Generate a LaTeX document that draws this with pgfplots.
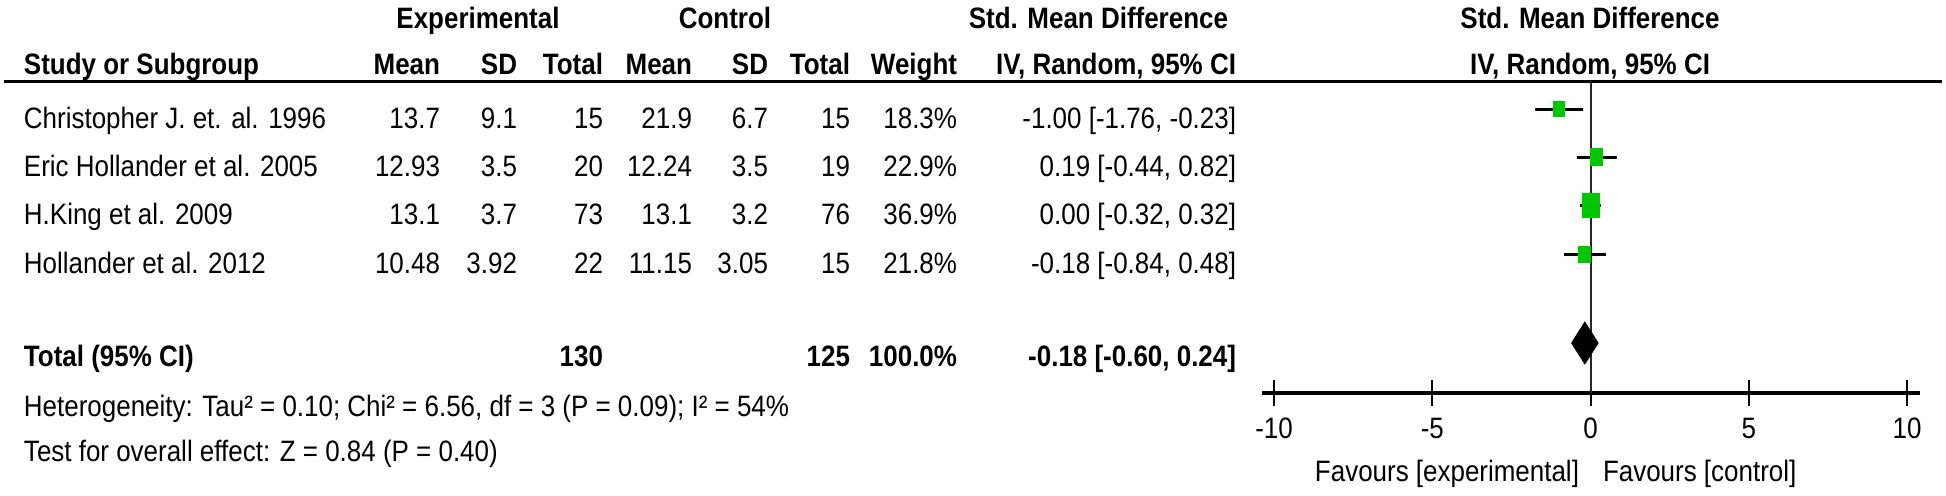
\documentclass[border=0pt]{standalone}
\usepackage{fontspec}
\setmainfont[FakeStretch=0.88]{Liberation Sans}
\usepackage{pgfplots}
\pgfplotsset{compat=1.18}
\definecolor{sqgreen}{RGB}{0,200,0}
\newcommand{\R}[3]{\node[anchor=base east] at (#1,#2) {#3};}
\newcommand{\RB}[3]{\node[anchor=base east] at (#1,#2) {\bfseries #3};}
\begin{document}
\fontsize{14.75}{17}\selectfont
\begin{tikzpicture}
\useasboundingbox (0pt,0pt) rectangle (973pt,-247.5pt);
\begin{scope}[x=0.5pt,y=-0.5pt,every node/.style={inner sep=0pt,outer sep=0pt}]
% header row 1
\node[anchor=base] at (478,28) {\bfseries Experimental};
\node[anchor=base] at (725,28) {\bfseries Control};
\node[anchor=base east] at (1228,28) {\bfseries Std. Mean Difference};
\node[anchor=base] at (1590,28) {\bfseries Std. Mean Difference};
% header row 2
\node[anchor=base west] at (24,74) {\bfseries Study or Subgroup};
\RB{440}{74}{Mean}\RB{517}{74}{SD}\RB{603}{74}{Total}
\RB{692}{74}{Mean}\RB{768}{74}{SD}\RB{850}{74}{Total}
\RB{957}{74}{Weight}\RB{1236}{74}{IV, Random, 95\% CI}
\node[anchor=base] at (1590,74) {\bfseries IV, Random, 95\% CI};
% rows
\node[anchor=base west] at (24,128) {Christopher J. et. al. 1996};
\R{440}{128}{13.7}\R{517}{128}{9.1}\R{603}{128}{15}\R{692}{128}{21.9}\R{768}{128}{6.7}\R{850}{128}{15}\R{957}{128}{18.3\%}\R{1236}{128}{-1.00 [-1.76, -0.23]}
\node[anchor=base west] at (24,176) {Eric Hollander et al. 2005};
\R{440}{176}{12.93}\R{517}{176}{3.5}\R{603}{176}{20}\R{692}{176}{12.24}\R{768}{176}{3.5}\R{850}{176}{19}\R{957}{176}{22.9\%}\R{1236}{176}{0.19 [-0.44, 0.82]}
\node[anchor=base west] at (24,224) {H.King et al. 2009};
\R{440}{224}{13.1}\R{517}{224}{3.7}\R{603}{224}{73}\R{692}{224}{13.1}\R{768}{224}{3.2}\R{850}{224}{76}\R{957}{224}{36.9\%}\R{1236}{224}{0.00 [-0.32, 0.32]}
\node[anchor=base west] at (24,273) {Hollander et al. 2012};
\R{440}{273}{10.48}\R{517}{273}{3.92}\R{603}{273}{22}\R{692}{273}{11.15}\R{768}{273}{3.05}\R{850}{273}{15}\R{957}{273}{21.8\%}\R{1236}{273}{-0.18 [-0.84, 0.48]}
% total
\node[anchor=base west] at (24,366) {\bfseries Total (95\% CI)};
\RB{603}{366}{130}\RB{850}{366}{125}\RB{957}{366}{100.0\%}\RB{1236}{366}{-0.18 [-0.60, 0.24]}
\node[anchor=base west] at (24,416) {Heterogeneity: Tau² = 0.10; Chi² = 6.56, df = 3 (P = 0.09); I² = 54\%};
\node[anchor=base west] at (24,461) {Test for overall effect: Z = 0.84 (P = 0.40)};
\node[anchor=base east] at (1579,481) {Favours [experimental]};
\node[anchor=base west] at (1603,481) {Favours [control]};
\end{scope}
\begin{axis}[at={(631pt,-247.5pt)}, anchor=south west, scale only axis,
  width=329pt, height=247.5pt,
  xmin=-10.38, xmax=10.41, ymin=-102, ymax=393,
  axis x line=middle, axis y line=none, clip=false,
  x axis line style={-, line width=1.75pt, black},
  xtick={-10,-5,0,5,10}, xticklabels={-10,-5,0,5,10},
  xtick align=center, major tick length=13pt,
  xtick style={line width=1pt, black},
  xticklabel style={anchor=base, yshift=-16pt, inner sep=0pt},
  ytick=\empty]
% header rule
\addplot[line width=1.5pt, black] coordinates {(-50.14,312) (11.09,312)};
% zero line
\addplot[line width=1pt, black!85] coordinates {(0,0) (0,312)};
% CIs
\addplot[line width=1.5pt, black] coordinates {(-1.76,284) (-0.23,284)};
\addplot[line width=1.5pt, black] coordinates {(-0.44,236) (0.82,236)};
\addplot[line width=1.5pt, black] coordinates {(-0.32,188) (0.32,188)};
\addplot[line width=1.5pt, black] coordinates {(-0.84,139) (0.48,139)};
% squares
\addplot[fill=sqgreen, draw=none] coordinates {(-1.19,276) (-0.81,276) (-0.81,292) (-1.19,292)} -- cycle;
\addplot[fill=sqgreen, draw=none] coordinates {(-0.015,227) (0.395,227) (0.395,245) (-0.015,245)} -- cycle;
\addplot[fill=sqgreen, draw=none] coordinates {(-0.284,175.5) (0.284,175.5) (0.284,200.5) (-0.284,200.5)} -- cycle;
\addplot[fill=sqgreen, draw=none] coordinates {(-0.385,130.5) (0.025,130.5) (0.025,147.5) (-0.385,147.5)} -- cycle;
% diamond
\addplot[fill=black, draw=black] coordinates {(-0.60,50) (-0.18,71) (0.24,50) (-0.18,29)} -- cycle;
\end{axis}
\end{tikzpicture}
\end{document}
